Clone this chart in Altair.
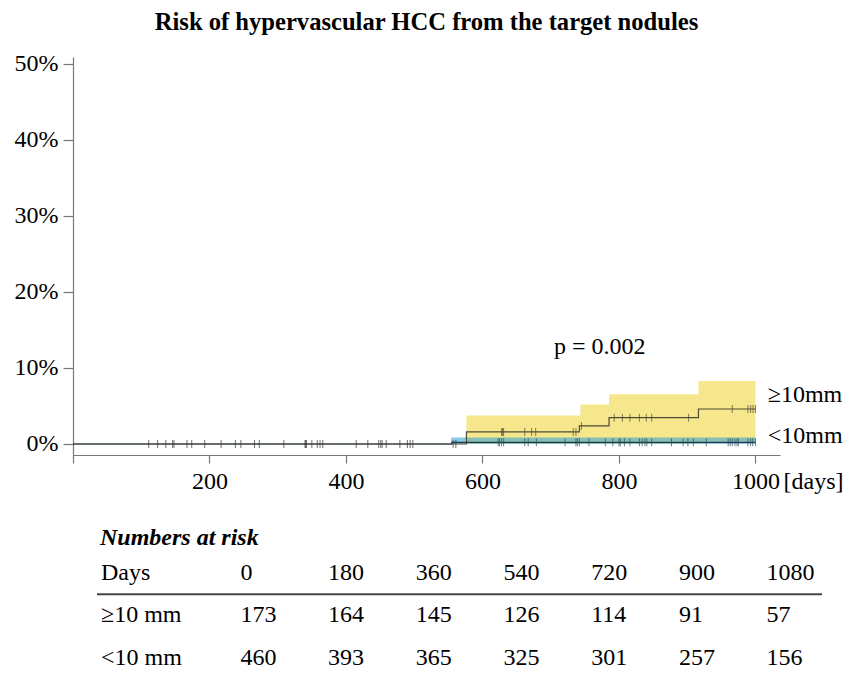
import altair as alt
import pandas as pd

FONT = "Liberation Serif"

# ---- Kaplan-Meier style cumulative incidence (%) ----
ge_time = [0, 576.5, 742, 785.5, 916.5, 1000]
ge_risk = [0, 1.58, 2.37, 3.46, 4.6, 4.6]
ge_ci_time = [576.5, 743.5, 785.5, 916.5, 1000]
ge_ci_upper = [3.75, 5.2, 6.55, 8.3, 8.3]
ge_ci_lower = [0, 0, 0, 0.3, 0.3]

lt_time = [0, 555, 1000]
lt_risk = [0, 0.22, 0.22]
lt_ci_time = [554, 1000]
lt_ci_upper = [0.85, 0.85]
lt_ci_lower = [0, 0]

# censor marks
base_censor = [111, 124, 136, 146, 148, 167, 174, 193, 217, 238, 246, 266, 273, 309,
               340, 341, 342, 350, 358, 362, 366, 415, 432, 448, 451, 453, 459, 479,
               490, 494, 498, 557, 561]
ge_censor_t = [628, 629.5, 631, 662, 672, 678, 733, 737, 745, 793, 805, 816, 830, 840,
               848, 902, 966, 989, 993, 996.5, 1000]
lt_censor_t = [623, 625, 628, 631, 662, 667, 679, 721, 737, 739, 742, 756, 780, 791, 800,
               802, 808, 816, 830, 834, 838, 841, 848, 877, 894, 901, 909, 928, 960, 963,
               966, 970, 973, 975, 989, 993, 996, 1000]

# ---- numbers at risk table ----
table_days = [0, 180, 360, 540, 720, 900, 1080]
n_ge = [173, 164, 145, 126, 114, 91, 57]
n_lt = [460, 393, 365, 325, 301, 257, 156]
row_labels = ["Days", "\u226510 mm", "<10 mm"]

# annotations
labels_txt = ["\u226510mm", "<10mm"]
labels_x = [1018, 1018]
labels_y = [6.45, 1.05]

W, H = 707, 398
XDOM = [0, 1036]
YDOM = [-1.45, 50.92]


def step_value(times, vals, t):
    v = vals[0]
    for ti, vi in zip(times, vals):
        if ti <= t:
            v = vi
    return v


ge_line = pd.DataFrame({"t": ge_time, "r": ge_risk})
lt_line = pd.DataFrame({"t": lt_time, "r": lt_risk})
ge_ci = pd.DataFrame({"t": ge_ci_time, "lo": ge_ci_lower, "hi": ge_ci_upper})
lt_ci = pd.DataFrame({"t": lt_ci_time, "lo": lt_ci_lower, "hi": lt_ci_upper})
base_c = pd.DataFrame({"t": base_censor, "r": [0] * len(base_censor)})
ge_c = pd.DataFrame({"t": ge_censor_t, "r": [step_value(ge_time, ge_risk, t) for t in ge_censor_t]})
lt_c = pd.DataFrame({"t": lt_censor_t, "r": [step_value(lt_time, lt_risk, t) for t in lt_censor_t]})

xs = alt.Scale(domain=XDOM, nice=False, zero=False)
ys = alt.Scale(domain=YDOM, nice=False, zero=False)

x_axis = alt.Axis(values=[0, 200, 400, 600, 800, 1000],
                  labelExpr="datum.value == 0 ? '' : datum.value",
                  tickSize=8, labelPadding=6, grid=False,
                  title="[days]", titleX=710, titleY=14, titleAlign="left",
                  titleBaseline="top", titleFontWeight="normal", titleFontSize=24,
                  titleFont=FONT, titleColor="black", titleAngle=0)
y_axis = alt.Axis(values=[0, 10, 20, 30, 40, 50], labelExpr="datum.value + '%'",
                  tickSize=10, labelPadding=5, grid=False, title=None)

ci_ge = alt.Chart(ge_ci).mark_area(interpolate="step-after", color="#f2dd5c", opacity=0.7).encode(
    x=alt.X("t:Q", scale=xs, axis=None), y=alt.Y("lo:Q", scale=ys, axis=None), y2="hi:Q")
ci_lt = alt.Chart(lt_ci).mark_area(interpolate="step-after", color="#2a9fd6", opacity=0.55).encode(
    x=alt.X("t:Q", scale=xs, axis=None), y=alt.Y("lo:Q", scale=ys, axis=None), y2="hi:Q")

line_ge = alt.Chart(ge_line).mark_line(interpolate="step-after", color="#4f4c33", strokeWidth=1.2).encode(
    x=alt.X("t:Q", scale=xs, axis=x_axis), y=alt.Y("r:Q", scale=ys, axis=y_axis))
line_lt = alt.Chart(lt_line).mark_line(interpolate="step-after", color="#263848", strokeWidth=1.2).encode(
    x=alt.X("t:Q", scale=xs, axis=None), y=alt.Y("r:Q", scale=ys, axis=None))

tick_base = alt.Chart(base_c).mark_tick(orient="vertical", size=8, thickness=1, color="#333333").encode(
    x=alt.X("t:Q", scale=xs, axis=None), y=alt.Y("r:Q", scale=ys, axis=None))
tick_ge = alt.Chart(ge_c).mark_tick(orient="vertical", size=8, thickness=1, color="#4f4c33").encode(
    x=alt.X("t:Q", scale=xs, axis=None), y=alt.Y("r:Q", scale=ys, axis=None))
tick_lt = alt.Chart(lt_c).mark_tick(orient="vertical", size=8, thickness=1, color="#2b4a5e").encode(
    x=alt.X("t:Q", scale=xs, axis=None), y=alt.Y("r:Q", scale=ys, axis=None))

grp_lbl = alt.Chart(pd.DataFrame({"t": labels_x, "r": labels_y, "txt": labels_txt})).mark_text(
    align="left", baseline="middle", font=FONT, fontSize=24, color="black").encode(
    x=alt.X("t:Q", scale=xs, axis=None), y=alt.Y("r:Q", scale=ys, axis=None), text="txt:N")
p_lbl = alt.Chart(pd.DataFrame({"t": [772], "r": [12.8], "txt": ["p = 0.002"]})).mark_text(
    align="center", baseline="middle", font=FONT, fontSize=24, color="black").encode(
    x=alt.X("t:Q", scale=xs, axis=None), y=alt.Y("r:Q", scale=ys, axis=None), text="txt:N")

# table layers: own scales (rows below the plot)
txs = alt.Scale(domain=[-343.6, 1107.5], nice=False, zero=False)
tys = alt.Scale(domain=[-11.14, -1.775], nice=False, zero=False, reverse=True)

rows = []
for d, a, b in zip(table_days, n_ge, n_lt):
    rows.append({"col": d, "row": 1, "txt": str(d)})
    rows.append({"col": d, "row": 2, "txt": str(a)})
    rows.append({"col": d, "row": 3, "txt": str(b)})
tab = pd.DataFrame(rows)

tab_nums = alt.Chart(tab).mark_text(align="left", baseline="middle", font=FONT, fontSize=24,
                                    color="black").encode(
    x=alt.X("col:Q", scale=txs, axis=None), y=alt.Y("row:Q", scale=tys, axis=None), text="txt:N")
tab_rows = alt.Chart(pd.DataFrame({"row": [1, 2, 3], "txt": row_labels})).mark_text(
    align="left", baseline="middle", font=FONT, fontSize=24, color="black").encode(
    x=alt.value(28), y=alt.Y("row:Q", scale=tys, axis=None), text="txt:N")
tab_head = alt.Chart(pd.DataFrame({"row": [0], "txt": ["Numbers at risk"]})).mark_text(
    align="left", baseline="middle", font=FONT, fontSize=24, fontWeight="bold",
    fontStyle="italic", dy=8, color="black").encode(
    x=alt.value(27), y=alt.Y("row:Q", scale=tys, axis=None), text="txt:N")
tab_rule = alt.Chart(pd.DataFrame({"row": [1.5]})).mark_rule(color="#444444", strokeWidth=2).encode(
    x=alt.value(24), x2=alt.value(749), y=alt.Y("row:Q", scale=tys, axis=None))

chart = alt.layer(
    ci_ge, ci_lt, line_ge, line_lt, tick_base, tick_ge, tick_lt, grp_lbl, p_lbl,
    tab_nums, tab_rows, tab_head, tab_rule
).resolve_scale(x="independent", y="independent").resolve_axis(
    x="independent", y="independent"
).properties(
    width=W, height=H,
    title=alt.Title("Risk of hypervascular HCC from the target nodules", font=FONT, fontSize=24.6,
                    fontWeight="bold", anchor="middle", offset=16, color="black"),
    autosize=alt.AutoSizeParams(type="none"),
    padding={"left": 65, "top": 49, "right": 71, "bottom": 215},
).configure_view(stroke=None).configure_axis(
    domainColor="#777777", tickColor="#777777", domainWidth=1.2, tickWidth=1.2,
    labelFont=FONT, labelFontSize=24, labelColor="black"
)

chart.save("out.html", embed_options={"renderer": "svg", "actions": False})
